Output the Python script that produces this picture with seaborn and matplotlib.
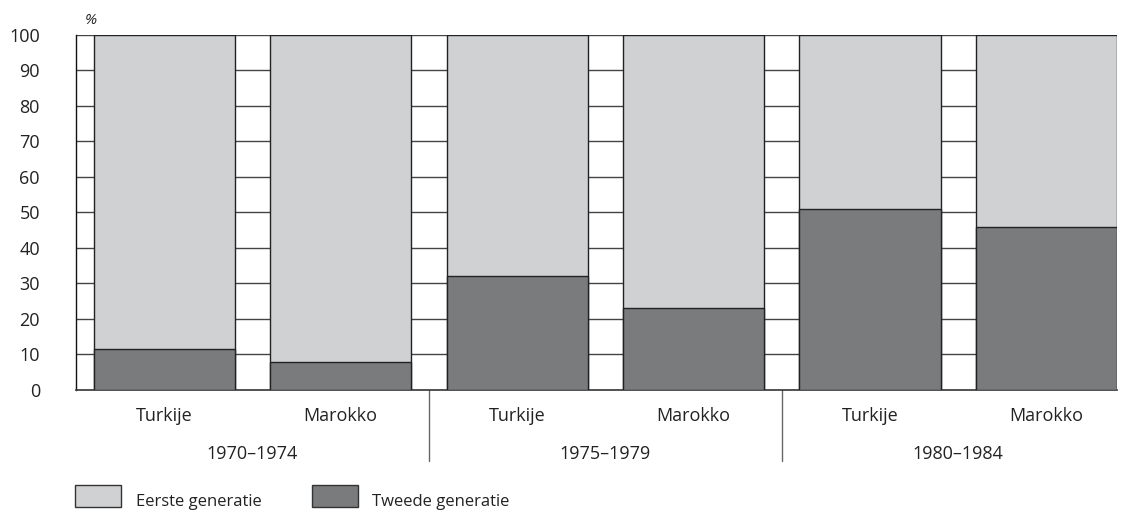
import pandas as pd
import matplotlib.pyplot as plt
import seaborn as sns

periods = ["1970–1974", "1975–1979", "1980–1984"]
countries = ["Turkije", "Marokko"]
tweede = [11.5, 8, 32, 23, 51, 46]
eerste = [100 - v for v in tweede]
yticks = [0, 10, 20, 30, 40, 50, 60, 70, 80, 90, 100]


def main():
    sns.set_theme(style="white")
    plt.rcParams["font.family"] = ["Open Sans", "DejaVu Sans"]

    keys = [p + " " + c for p in periods for c in countries]
    df = pd.DataFrame({"key": keys, "tweede": tweede, "totaal": [t + e for t, e in zip(tweede, eerste)]})

    fig = plt.figure(figsize=(11.3, 5.13), dpi=100)
    ax = fig.add_axes([0.0673, 0.2398, 0.9212, 0.692])

    for y in yticks[1:]:
        ax.axhline(y, color="#444444", lw=1, zorder=0)

    sns.barplot(data=df, x="key", y="totaal", order=keys, color="#d0d1d3",
                edgecolor="#222222", linewidth=1, width=0.8, saturation=1, ax=ax, zorder=2)
    sns.barplot(data=df, x="key", y="tweede", order=keys, color="#7a7b7d",
                edgecolor="#222222", linewidth=1, width=0.8, saturation=1, ax=ax, zorder=3)

    ax.set_xlim(-0.5, 5.4)
    ax.set_ylim(0, 100)
    ax.set_yticks(yticks)
    ax.tick_params(axis="y", length=0, labelsize=13, pad=26, colors="#222222")
    ax.set_xticks([])
    ax.set_xlabel("")
    ax.set_ylabel("")
    for s in ["top", "right"]:
        ax.spines[s].set_visible(False)
    ax.spines["left"].set_color("#111111")
    ax.spines["bottom"].set_color("#333333")
    ax.spines["left"].set_linewidth(1)
    ax.spines["bottom"].set_linewidth(1.2)

    ax.text(-0.45, 102, "%", fontsize=11, style="italic", ha="left", va="bottom", color="#222222")

    trans = ax.get_xaxis_transform()
    for i, k in enumerate(keys):
        ax.text(i, -0.072, countries[i % 2], transform=trans, ha="center", va="center",
                fontsize=13, color="#222222")
    for g, p in enumerate(periods):
        ax.text(2 * g + 0.5, -0.18, p, transform=trans, ha="center", va="center",
                fontsize=13, color="#222222")
    for xv in [1.5, 3.5]:
        ax.plot([xv, xv], [0, -0.2], transform=trans, color="#666666", lw=1, clip_on=False)

    fig.patches.append(plt.Rectangle((75 / 1130, 1 - 507 / 513), 46 / 1130, 22 / 513,
                                     transform=fig.transFigure, facecolor="#d0d1d3",
                                     edgecolor="#333333", lw=1))
    fig.text(136 / 1130, 1 - 502 / 513, "Eerste generatie", fontsize=12, va="center", color="#222222")
    fig.patches.append(plt.Rectangle((312 / 1130, 1 - 507 / 513), 46 / 1130, 22 / 513,
                                     transform=fig.transFigure, facecolor="#7a7b7d",
                                     edgecolor="#333333", lw=1))
    fig.text(372 / 1130, 1 - 502 / 513, "Tweede generatie", fontsize=12, va="center", color="#222222")

    fig.savefig("out.png", dpi=100)


if __name__ == "__main__":
    main()
